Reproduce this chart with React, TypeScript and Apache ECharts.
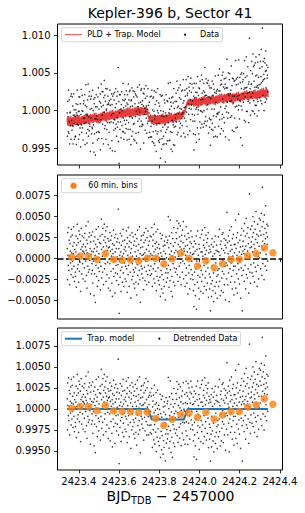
import React, { useEffect, useRef } from "react";
import * as echarts from "echarts";

const titleText = "Kepler-396 b, Sector 41";
const startTime = 2423.342;
const cadenceDays = 2 / 1440;

// PLD + trapezoid model, in units of 1e-4 relative flux offset from 1 (one row = 60 min of 2-min cadences)
const pldModelE4 = [
  -15,-9,-19,-12,-20,-10,-16,-8,-18,-13,-21,-11,-15,-7,-19,-13,-20,-14,-10,-17,-9,-22,-12,-16,-8,-18,-11,-17,-10,-19,
  -13,-7,-18,-11,-19,-9,-14,-6,-16,-12,-20,-10,-15,-6,-17,-11,-19,-12,-9,-16,-8,-20,-11,-14,-7,-17,-10,-15,-8,-18,
  -12,-6,-16,-9,-18,-7,-13,-5,-15,-10,-17,-8,-13,-4,-16,-9,-18,-11,-7,-14,-6,-19,-10,-12,-5,-15,-9,-13,-6,-16,
  -10,-5,-14,-8,-16,-6,-11,-3,-13,-9,-15,-7,-12,-3,-14,-8,-16,-9,-6,-13,-5,-17,-8,-11,-4,-14,-7,-12,-5,-15,
  -8,-3,-12,-6,-14,-4,-9,-2,-11,-7,-13,-5,-10,-1,-12,-6,-14,-7,-4,-11,-3,-15,-6,-9,-2,-12,-5,-10,-3,-13,
  -6,-1,-10,-4,-12,-2,-7,0,-9,-5,-11,-3,-8,1,-10,-4,-12,-5,-2,-9,-1,-13,-4,-7,0,-10,-3,-8,-1,-11,
  -4,1,-8,-2,-10,0,-5,2,-7,-3,-9,-1,-6,3,-8,-2,-10,-3,0,-7,1,-11,-2,-5,2,-8,-1,-6,1,-9,
  -3,3,-7,-1,-8,1,-4,4,-6,-2,-8,0,-5,4,-6,-1,-9,-2,2,-6,2,-9,-1,-4,3,-7,0,-5,2,-8,
  -1,4,-5,1,-7,3,-2,5,-4,0,-6,2,-3,6,-5,1,-7,0,3,-4,4,-8,1,-2,5,-5,2,-3,4,-6,
  -1,4,-5,1,-6,3,-2,5,-4,0,-6,2,-3,5,-5,1,-6,0,2,-4,-6,-9,-8,-12,-10,-15,-11,-9,-15,-12,
  -12,-7,-17,-10,-18,-8,-14,-6,-16,-11,-19,-9,-15,-5,-17,-10,-18,-12,-8,-16,-7,-20,-10,-13,-6,-17,-9,-14,-7,-18,
  -11,-6,-16,-9,-18,-7,-13,-5,-15,-10,-18,-8,-14,-4,-16,-9,-17,-11,-7,-15,-6,-19,-9,-12,-5,-16,-8,-13,-6,-17,
  -10,-5,-14,-8,-16,-6,-11,-3,-13,-9,-15,-7,-12,-3,-14,-8,-16,-9,-6,-13,-5,-17,-8,-11,-4,-14,-7,-12,-5,-15,
  -8,-3,-12,-6,-13,-4,-9,-2,-11,-7,-12,-5,-9,-1,-11,-5,-12,-6,-3,-9,-2,-11,-4,-7,0,-9,-3,-6,1,-5,
  -4,0,-2,4,1,6,3,9,6,8,12,7,10,15,8,12,6,11,14,9,16,7,12,10,15,6,11,9,14,8,
  11,16,7,13,5,15,10,17,8,12,6,14,9,18,7,13,5,12,15,8,16,4,13,10,17,7,14,9,16,6,
  13,18,9,15,7,17,12,19,10,14,8,16,11,20,9,15,7,14,17,10,18,6,15,12,19,9,16,11,18,8,
  14,19,10,16,8,18,13,20,11,15,9,17,12,21,10,16,8,15,18,11,19,7,16,13,20,10,17,12,19,9,
  16,21,12,18,10,20,15,22,13,17,11,19,14,23,12,18,10,17,20,13,21,9,18,15,22,12,19,14,21,11,
  17,22,13,19,11,21,16,23,14,18,12,20,15,24,13,19,11,18,21,14,22,10,19,16,23,13,20,15,22,12,
  18,23,14,20,12,22,17,24,15,19,13,21,16,25,14,20,12,19,22,15,23,11,20,17,24,14,21,16,23,13,
  20,25,16,22,14,24,19,26,17,21,15,23,18,27,16,22,14,21,24,17,25,13,22,19,26,16,23,18,25,15,
  21,26,17,23,15,25,20,27,18,22,16,24,19,28,17,23,15,22,25,18,26,14,23,20,27,17,24,19,26,16,
  23,28,19,25,17,27,22,29,20,24,18,26,21,30,19,25,17,24,27,20,28,16,25,22,29,19,26,21,28,18,
];

// Residuals (data - PLD model), units of 1e-4
const residualE4 = [
  12,-25,31,4,-8,37,-14,22,3,-31,18,9,-5,26,-19,35,7,-12,28,-3,15,-22,6,38,-9,19,-27,11,2,-16,
  -21,8,27,-34,16,3,41,-12,24,-7,19,-28,33,5,-15,29,-4,21,-39,11,36,2,-18,14,27,-6,9,-24,17,8,
  25,-11,6,30,-27,14,-3,39,10,-20,22,-35,7,18,-9,44,-16,3,26,-13,31,-2,12,-42,20,5,28,-18,9,-6,
  -14,32,-29,8,-3,21,-44,12,-18,26,4,-52,17,-8,35,-21,9,14,-33,1,23,-11,38,-26,6,-15,19,-4,27,-37,
  18,-9,47,11,-23,29,3,-16,36,14,-31,22,8,41,-12,26,-6,19,33,-27,5,15,-19,38,10,-4,24,-35,13,21,
  -23,14,-6,31,-38,9,22,-15,3,27,-29,11,-45,18,6,-12,34,-21,16,-3,25,-41,8,-17,29,-8,12,-26,20,2,
  -18,24,-7,59,-31,12,-65,19,4,-22,30,-14,8,-39,16,27,-10,3,-28,21,35,-17,6,-33,11,-5,22,-24,14,-9,
  9,-27,33,-12,18,-40,25,4,-19,37,-8,14,-33,21,-2,28,-16,7,-47,19,12,-25,31,-6,3,-21,26,-13,16,-30,
  -16,21,-35,8,29,-11,-28,15,3,-43,24,-7,34,-20,10,-30,17,1,-14,38,-25,6,-52,13,22,-9,27,-18,4,-12,
  14,-23,28,5,-37,19,31,-10,7,-26,22,-3,36,-15,11,-31,25,2,-19,33,-8,16,-28,9,21,-14,3,27,-20,6,
  -9,26,-18,37,4,-33,15,22,-12,29,-24,8,41,-6,-29,18,11,-15,32,-38,20,3,-21,13,35,-11,6,-26,17,1,
  -31,12,-22,30,-45,7,-14,24,-36,3,-19,28,-8,-41,15,-25,9,-33,21,-4,16,-49,6,-17,26,-28,1,-12,19,-23,
  22,-17,50,-8,13,-34,27,5,-26,46,-13,18,-39,9,31,-21,3,-45,24,-6,15,-28,37,-11,7,-32,19,2,-16,10,
  31,-12,24,45,-19,8,36,-27,17,3,42,-9,26,-22,14,39,-5,21,-31,11,28,6,-16,34,-3,19,44,-24,12,9,
  -6,27,-33,15,4,-20,38,-11,23,-29,8,16,-42,30,1,-17,25,-8,12,-36,20,7,-24,33,-13,18,-3,26,-19,5,
  -25,14,-38,6,-57,21,-16,-31,9,-44,18,-12,27,-60,-3,11,-28,33,-20,-7,4,-35,17,-48,12,-22,25,-9,-39,8,
  -14,29,-27,8,34,-19,3,-41,16,22,-8,-33,13,37,-23,5,-15,28,-37,10,19,-4,-29,24,-11,31,-46,7,15,-18,
  -36,11,-22,-62,8,-30,17,-45,-9,24,-26,3,-38,14,-17,-51,20,-13,6,-33,27,-41,-5,10,-28,16,-21,-47,9,-14,
  -19,26,-33,8,-12,35,-27,4,-44,17,-6,21,-38,12,-23,29,-15,-2,31,-40,10,-18,24,-31,7,-9,16,-49,22,-5,
  13,-24,55,-8,19,-31,6,27,-17,2,-51,21,34,-12,9,-28,16,-5,38,-21,11,-36,24,3,-14,29,-9,-43,17,7,
  -28,17,-9,46,-35,12,25,-18,4,-41,31,-6,19,-24,53,-13,8,-30,22,-2,14,-47,28,-11,5,36,-20,-62,15,9,
  21,-14,33,6,-27,42,11,-8,27,-36,15,48,-19,4,30,-23,9,37,-12,18,-41,25,2,77,-16,13,-29,35,-7,20,
  14,39,-17,26,8,50,-21,31,-5,17,44,-28,12,35,-10,23,56,-15,6,29,-33,19,41,-8,3,27,-24,15,48,1,
  33,7,46,-12,28,54,15,-20,38,85,21,-6,44,11,29,-25,52,18,36,-9,24,63,5,31,-14,41,17,26,-3,39,
];

const binTimes = [
  2423.365, 2423.407, 2423.448, 2423.49, 2423.532, 2423.573, 2423.615, 2423.657, 2423.698,
  2423.74, 2423.782, 2423.823, 2423.865, 2423.907, 2423.948, 2423.99, 2424.032, 2424.073,
  2424.115, 2424.157, 2424.198, 2424.24, 2424.282, 2424.323, 2424.365,
];
const binResidual = [
  0.00016, 0.00032, 0.00028, -0.00008, 0.0006, -0.0001, -0.00018, -0.00014, -0.00028,
  0.00004, 0.00006, -0.00064, 0.0, 0.00068, 0.00004, -0.00087, -0.00026, -0.00107,
  -0.00061, -0.0001, -0.0001, 0.00034, 0.0006, 0.00128, 0.0007,
];
const binDetrended = [
  1.00008, 1.00028, 1.00024, 0.9998, 1.00044, 0.99976, 0.99968, 0.99968, 0.99958,
  0.99963, 0.99885, 0.99805, 0.99877, 0.99933, 0.9995, 0.99902, 0.9996, 0.9988,
  0.99928, 0.9997, 0.9997, 1.00024, 1.00048, 1.0012, 1.00055,
];

// Trapezoid transit model breakpoints
const trapTimes = [2423.342, 2423.743, 2423.763, 2423.922, 2423.942, 2424.341];
const trapFlux = [1.0, 1.0, 0.99873, 0.99873, 1.0, 1.0];

const xTicks = [2423.4, 2423.6, 2423.8, 2424.0, 2424.2, 2424.4];
const yTicksTop = [0.995, 1.0, 1.005, 1.01];
const yTicksMid = [-0.005, -0.0025, 0, 0.0025, 0.005, 0.0075];
const yTicksBot = [0.995, 0.9975, 1.0, 1.0025, 1.005, 1.0075];

const FONT = "DejaVu Sans";
const RED = "#e01b1b";
const ORANGE = "#ff7f0e";
const BLUE = "#1f77b4";

function trapAt(t: number): number {
  for (let k = 0; k < trapTimes.length - 1; k++) {
    if (t >= trapTimes[k] && t <= trapTimes[k + 1]) {
      const f = (t - trapTimes[k]) / (trapTimes[k + 1] - trapTimes[k]);
      return trapFlux[k] + f * (trapFlux[k + 1] - trapFlux[k]);
    }
  }
  return 1.0;
}

const nPts = Math.min(residualE4.length, pldModelE4.length);
const idx = Array.from({ length: nPts }, (_, i) => i);
const times = idx.map((i) => startTime + i * cadenceDays);
const modelSeries = idx.map((i) => [times[i], 1 + pldModelE4[i] / 1e4]);
const dataSeries = idx.map((i) => [times[i], 1 + (pldModelE4[i] + residualE4[i]) / 1e4]);
const residSeries = idx.map((i) => [times[i], residualE4[i] / 1e4]);
const detrendedSeries = idx.map((i) => [times[i], trapAt(times[i]) + residualE4[i] / 1e4]);
const trapSeries = trapTimes.map((t, i) => [t, trapFlux[i]]);
const binResidSeries = binTimes.map((t, i) => [t, binResidual[i]]);
const binDetSeries = binTimes.map((t, i) => [t, binDetrended[i]]);

const L = 57.5;
const W = 225;
const tops = [24, 175, 328];
const heights = [141, 144, 142];
const yRanges = [
  [0.99279, 1.01146],
  [-0.00718, 0.00996],
  [0.99274, 1.00961],
];

function txt(text: string, x: number, y: number, size: number, align = "left", extra: any = {}) {
  return {
    type: "text",
    x,
    y,
    z: 100,
    silent: true,
    style: {
      text,
      fontSize: size,
      fontFamily: FONT,
      fill: "#000",
      align,
      textAlign: align,
      verticalAlign: "middle",
      textVerticalAlign: "middle",
      ...extra,
    },
  };
}

function box(x: number, y: number, w: number, h: number) {
  return {
    type: "rect",
    z: 99,
    silent: true,
    shape: { x, y, width: w, height: h, r: 2 },
    style: { fill: "rgba(255,255,255,0.8)", stroke: "#cccccc", lineWidth: 0.8 },
  };
}

function hline(x1: number, x2: number, y: number, color: string, width: number, opacity = 1) {
  return {
    type: "line",
    z: 100,
    silent: true,
    shape: { x1, y1: y, x2, y2: y },
    style: { stroke: color, lineWidth: width, opacity },
  };
}

function dot(cx: number, cy: number, r: number, color: string) {
  return { type: "circle", z: 100, silent: true, shape: { cx, cy, r }, style: { fill: color } };
}

export default function App() {
  const ref = useRef<HTMLDivElement>(null);
  useEffect(() => {
    if (!ref.current) return;
    const chart = echarts.init(ref.current, null, { renderer: "svg" });

    const grids = tops.map((top, i) => ({
      left: L,
      top,
      width: W,
      height: heights[i],
      show: true,
      borderColor: "#000",
      borderWidth: 1,
      backgroundColor: "transparent",
      containLabel: false,
      outerBoundsMode: "none",
    }));

    const xAxes = tops.map((_, i) => ({
      type: "value",
      gridIndex: i,
      min: 2423.294,
      max: 2424.413,
      axisLine: { show: false },
      splitLine: { show: false },
      axisTick: {
        show: true,
        inside: false,
        length: 3.5,
        customValues: xTicks,
        lineStyle: { color: "#000", width: 0.8 },
      },
      axisLabel: {
        show: i === 2,
        customValues: xTicks,
        formatter: (v: number) => v.toFixed(1),
        fontSize: 10,
        fontFamily: FONT,
        color: "#000",
        margin: 6,
      },
    }));

    const yTickSets = [yTicksTop, yTicksMid, yTicksBot];
    const yFormatters = [
      (v: number) => v.toFixed(3),
      (v: number) => (Math.abs(v) < 1e-12 ? "0.0000" : (v < 0 ? "\u2212" : "") + Math.abs(v).toFixed(4)),
      (v: number) => v.toFixed(4),
    ];
    const yAxes = tops.map((_, i) => ({
      type: "value",
      gridIndex: i,
      min: yRanges[i][0],
      max: yRanges[i][1],
      axisLine: { show: false },
      splitLine: { show: false },
      axisTick: {
        show: true,
        inside: false,
        length: 3.5,
        customValues: yTickSets[i],
        lineStyle: { color: "#000", width: 0.8 },
      },
      axisLabel: {
        show: true,
        customValues: yTickSets[i],
        formatter: yFormatters[i],
        fontSize: 10,
        fontFamily: FONT,
        color: "#000",
        margin: 7,
      },
    }));

    const dotStyle = { color: "#000" };
    const DOT = 1.5;
    const series: any[] = [
      {
        name: "PLD + Trap. Model",
        type: "line",
        xAxisIndex: 0,
        yAxisIndex: 0,
        data: modelSeries,
        symbol: "none",
        showSymbol: false,
        lineStyle: { color: RED, width: 1.4, opacity: 0.85 },
        itemStyle: { color: RED },
        z: 2,
        silent: true,
        progressive: 0,
      },
      {
        name: "Data",
        type: "scatter",
        xAxisIndex: 0,
        yAxisIndex: 0,
        data: dataSeries,
        symbolSize: DOT,
        itemStyle: dotStyle,
        z: 3,
        silent: true,
        progressive: 0,
      },
      {
        name: "Residuals",
        type: "scatter",
        xAxisIndex: 1,
        yAxisIndex: 1,
        data: residSeries,
        symbolSize: DOT,
        itemStyle: dotStyle,
        z: 2,
        silent: true,
        progressive: 0,
        markLine: {
          silent: true,
          symbol: ["none", "none"],
          label: { show: false },
          lineStyle: { color: "#000", width: 1.5, type: [6, 2.5] },
          data: [{ yAxis: 0 }],
          animation: false,
        },
      },
      {
        name: "60 min. bins",
        type: "scatter",
        xAxisIndex: 1,
        yAxisIndex: 1,
        data: binResidSeries,
        symbolSize: 7.5,
        itemStyle: { color: ORANGE },
        z: 5,
        silent: true,
      },
      {
        name: "Detrended Data",
        type: "scatter",
        xAxisIndex: 2,
        yAxisIndex: 2,
        data: detrendedSeries,
        symbolSize: DOT,
        itemStyle: dotStyle,
        z: 2,
        silent: true,
        progressive: 0,
      },
      {
        name: "Trap. model",
        type: "line",
        xAxisIndex: 2,
        yAxisIndex: 2,
        data: trapSeries,
        symbol: "none",
        showSymbol: false,
        lineStyle: { color: BLUE, width: 2 },
        itemStyle: { color: BLUE },
        z: 4,
        silent: true,
      },
      {
        name: "60 min. bins (detrended)",
        type: "scatter",
        xAxisIndex: 2,
        yAxisIndex: 2,
        data: binDetSeries,
        symbolSize: 7.5,
        itemStyle: { color: ORANGE },
        z: 5,
        silent: true,
      },
    ];

    const lx = L + 4;
    const l1y = tops[0] + 3.7;
    const l2y = tops[1] + 3.7;
    const l3y = tops[2] + 3.7;
    const graphic: any[] = [
      txt(titleText, L + W / 2, 13, 14, "center"),
      txt("BJD", 106.6, 496, 14, "left"),
      txt("TDB", 131.1, 500.5, 9.8, "left"),
      txt("\u2212 2457000", 156, 496, 14, "left"),
      // legend 1
      box(lx, l1y, 161, 14),
      hline(lx + 3.5, lx + 20.5, l1y + 7, RED, 1, 0.8),
      txt("PLD + Trap. Model", lx + 25.8, l1y + 7, 8),
      dot(lx + 123.5, l1y + 7, 1, "#000"),
      txt("Data", lx + 138.5, l1y + 7, 8),
      // legend 2
      box(lx, l2y, 80, 14),
      dot(lx + 12, l2y + 7, 3.2, ORANGE),
      txt("60 min. bins", lx + 26.8, l2y + 7, 8),
      // legend 3
      box(lx, l3y, 179, 14),
      hline(lx + 3.5, lx + 20.5, l3y + 7, BLUE, 2),
      txt("Trap. model", lx + 25.8, l3y + 7, 8),
      dot(lx + 97.8, l3y + 7, 1, "#000"),
      txt("Detrended Data", lx + 111.8, l3y + 7, 8),
    ];

    chart.setOption({
      animation: false,
      backgroundColor: "#fff",
      grid: grids,
      xAxis: xAxes,
      yAxis: yAxes,
      series,
      graphic,
    });
    return () => chart.dispose();
  }, []);

  return (
    <div
      ref={ref}
      style={{ position: "fixed", left: 0, top: 0, width: 305, height: 513, background: "#fff" }}
    />
  );
}
